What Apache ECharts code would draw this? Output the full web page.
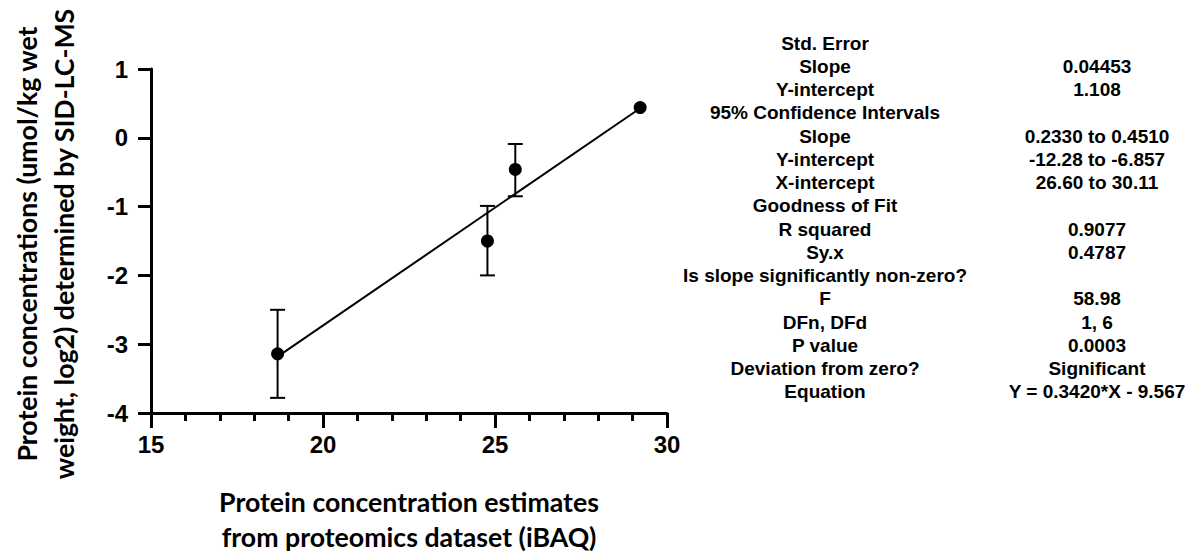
<!DOCTYPE html>
<html>
<head>
<meta charset="utf-8">
<script src="https://cdn.jsdelivr.net/npm/echarts@6/dist/echarts.min.js"></script>
<style>
  html, body { margin: 0; padding: 0; background: #fff; }
  #chart { width: 1192px; height: 556px; }
</style>
</head>
<body>
<div id="chart"></div>
<script>
// points (iBAQ estimate vs SID-LC-MS, log2)
const xVals = [18.68, 24.78, 25.59, 29.22];
const yVals = [-3.14, -1.50, -0.46, 0.44];
// error bar ends, null = no bar drawn
const errLow = [-3.78, -2.00, -0.85, null];
const errHigh = [-2.50, -0.99, -0.09, null];

// fitted line ends
const fitX = [18.68, 29.22];
const fitY = [-3.18, 0.43];

const xTicks = [15, 20, 25, 30];
const yTicks = [-4, -3, -2, -1, 0, 1];

const xTitle = ['Protein concentration estimates', 'from proteomics dataset (iBAQ)'];
const yTitle = ['Protein concentrations (umol/kg wet', 'weight, log2) determined by SID-LC-MS'];

// stats table
const statLabels = ['Std. Error', 'Slope', 'Y-intercept', '95% Confidence Intervals', 'Slope', 'Y-intercept',
    'X-intercept', 'Goodness of Fit', 'R squared', 'Sy.x', 'Is slope significantly non-zero?', 'F',
    'DFn, DFd', 'P value', 'Deviation from zero?', 'Equation'];
const statValues = ['', '0.04453', '1.108', '', '0.2330 to 0.4510', '-12.28 to -6.857',
    '26.60 to 30.11', '', '0.9077', '0.4787', '', '58.98',
    '1, 6', '0.0003', 'Significant', 'Y = 0.3420*X - 9.567'];

const axisFont = "'Liberation Sans', Arial, sans-serif";
const titleFont = "Lato, 'Noto Sans', sans-serif";

// size the title font so the first x title line is ~380px wide (calibri-ish look)
function fitFontSize(text, target) {
    const ctx = document.createElement('canvas').getContext('2d');
    ctx.font = 'bold 100px ' + titleFont;
    return Math.round(100 * target / ctx.measureText(text).width * 10) / 10;
}
const titleSize = fitFontSize(xTitle[0], 380);

const chart = echarts.init(document.getElementById('chart'), null, { renderer: 'svg' });

const points = xVals.map((x, i) => [x, yVals[i]]);
const bars = [];
xVals.forEach((x, i) => {
    if (errLow[i] !== null) bars.push([x, errLow[i], errHigh[i]]);
});
const fitLine = fitX.map((x, i) => [x, fitY[i]]);

const graphics = [];
// y title, two rotated lines
graphics.push({
    type: 'text',
    x: 45,
    y: 244,
    rotation: Math.PI / 2,
    style: {
        text: yTitle.join('\n'),
        font: 'bold ' + titleSize + 'px ' + titleFont,
        fill: '#000',
        align: 'center',
        verticalAlign: 'middle',
        lineHeight: 37
    }
});
// x title
graphics.push({
    type: 'text',
    x: 409,
    y: 519,
    style: {
        text: xTitle.join('\n'),
        font: 'bold ' + titleSize + 'px ' + titleFont,
        fill: '#000',
        align: 'center',
        verticalAlign: 'middle',
        lineHeight: 35
    }
});
statLabels.forEach((t, i) => {
    const y = 43 + i * 23.25;
    graphics.push({
        type: 'text', x: 825, y: y,
        style: { text: t, font: 'bold 19px ' + axisFont, fill: '#000', align: 'center', verticalAlign: 'middle' }
    });
    if (statValues[i]) {
        graphics.push({
            type: 'text', x: 1097, y: y,
            style: { text: statValues[i], font: 'bold 19px ' + axisFont, fill: '#000', align: 'center', verticalAlign: 'middle' }
        });
    }
});

chart.setOption({
    animation: false,
    backgroundColor: '#fff',
    grid: {
        left: 151,
        top: 69,
        width: 516,
        height: 344
    },
    xAxis: {
        type: 'value',
        min: xTicks[0],
        max: xTicks[xTicks.length - 1],
        interval: 5,
        axisLine: { onZero: false, lineStyle: { color: '#000', width: 3 } },
        axisTick: { show: true, length: 15, lineStyle: { color: '#000', width: 3 } },
        minorTick: { show: true, splitNumber: 5, length: 8, lineStyle: { color: '#000', width: 3 } },
        splitLine: { show: false },
        axisLabel: {
            margin: 19,
            color: '#000',
            fontFamily: axisFont,
            fontWeight: 'bold',
            fontSize: 24
        }
    },
    yAxis: {
        type: 'value',
        min: yTicks[0],
        max: yTicks[yTicks.length - 1],
        interval: 1,
        axisLine: { show: true, onZero: false, lineStyle: { color: '#000', width: 3 } },
        axisTick: { show: true, length: 13, lineStyle: { color: '#000', width: 3 } },
        splitLine: { show: false },
        axisLabel: {
            margin: 23,
            color: '#000',
            fontFamily: axisFont,
            fontWeight: 'bold',
            fontSize: 24
        }
    },
    graphic: graphics,
    series: [
        {
            type: 'line',
            data: fitLine,
            symbol: 'none',
            lineStyle: { color: '#000', width: 2 },
            z: 2
        },
        {
            type: 'custom',
            data: bars,
            z: 3,
            renderItem: function (params, api) {
                const lo = api.coord([api.value(0), api.value(1)]);
                const hi = api.coord([api.value(0), api.value(2)]);
                const w = 7.5;
                const st = { stroke: '#000', lineWidth: 2 };
                return {
                    type: 'group',
                    children: [
                        { type: 'line', shape: { x1: lo[0], y1: lo[1], x2: hi[0], y2: hi[1] }, style: st },
                        { type: 'line', shape: { x1: lo[0] - w, y1: lo[1], x2: lo[0] + w, y2: lo[1] }, style: st },
                        { type: 'line', shape: { x1: hi[0] - w, y1: hi[1], x2: hi[0] + w, y2: hi[1] }, style: st }
                    ]
                };
            }
        },
        {
            type: 'scatter',
            data: points,
            symbol: 'circle',
            symbolSize: 13,
            itemStyle: { color: '#000', opacity: 1 },
            z: 4
        }
    ]
});
</script>
</body>
</html>
